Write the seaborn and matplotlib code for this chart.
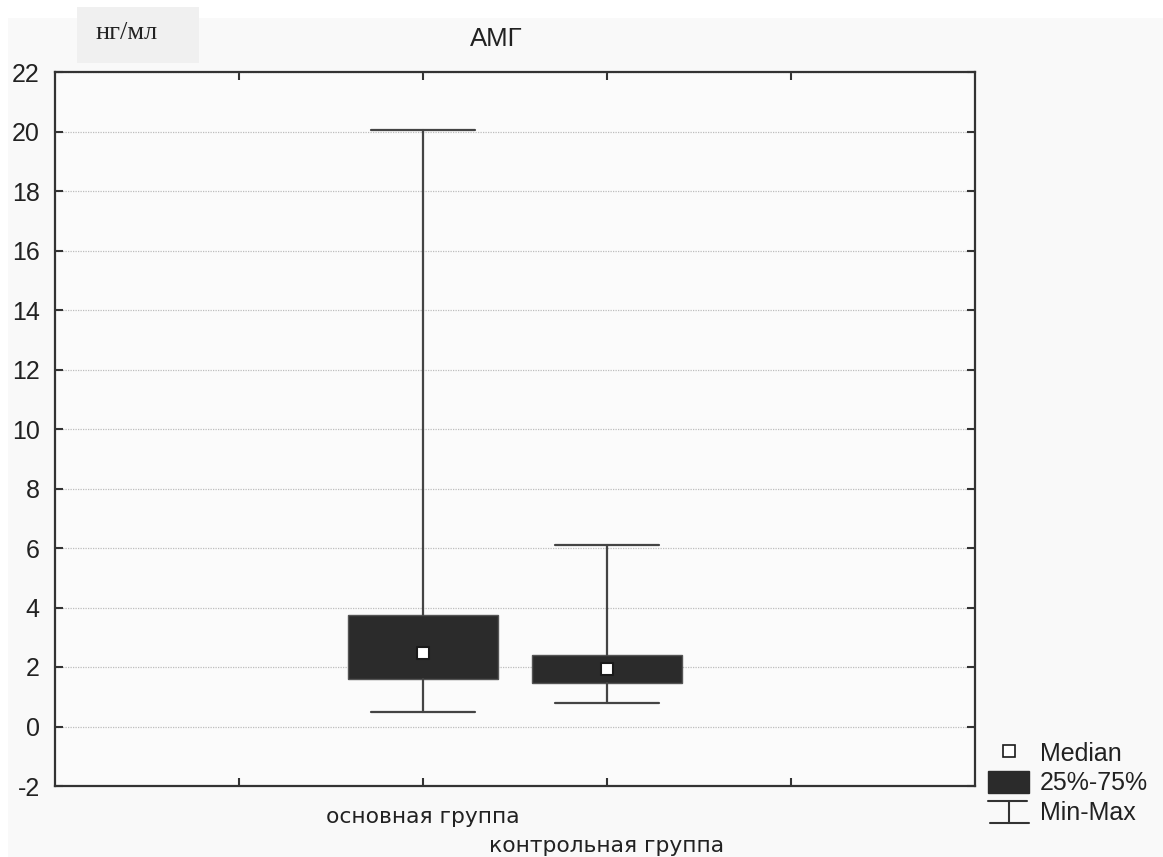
import matplotlib
matplotlib.use('Agg')
import matplotlib.pyplot as plt
import seaborn as sns
import pandas as pd
from matplotlib.patches import Rectangle, Patch
from matplotlib.lines import Line2D
from matplotlib.legend_handler import HandlerBase
from matplotlib.transforms import ScaledTranslation

# ---- data ----
categories = ['основная группа', 'контрольная группа']
medians = [2.47, 1.94]
q1 = [1.60, 1.47]
q3 = [3.75, 2.41]
mins = [0.49, 0.80]
maxs = [20.05, 6.10]
title = 'АМГ'
unit = 'нг/мл'
legend_labels = ['Median', '25%-75%', 'Min-Max']
yticks = list(range(-2, 23, 2))

sns.set_style('white')
plt.rcParams['font.family'] = ['Liberation Sans', 'DejaVu Sans']

W, H = 1163, 857
fig = plt.figure(figsize=(W / 100, H / 100), dpi=100, facecolor='white')
fig.patches.append(Rectangle((8 / W, 0), 1 - 8 / W, 1 - 18 / H, transform=fig.transFigure,
                             facecolor='#f9f9f9', edgecolor='none', zorder=-10))
fig.patches.append(Rectangle((77 / W, 1 - 63 / H), 122 / W, 56 / H, transform=fig.transFigure,
                             facecolor='#f0f0f0', edgecolor='none', zorder=-9))

ax = fig.add_axes([55 / W, 1 - 786 / H, 920 / W, 714 / H])
ax.set_facecolor('#fbfbfb')

positions = [2, 3]
stats = [dict(med=m, q1=a, q3=b, whislo=lo, whishi=hi, fliers=[])
         for m, a, b, lo, hi in zip(medians, q1, q3, mins, maxs)]
ax.bxp(stats, positions=positions, widths=0.81, capwidths=0.567, patch_artist=True,
       showfliers=False, manage_ticks=False,
       boxprops=dict(facecolor='#2b2b2b', edgecolor='#555555', linewidth=1, zorder=3),
       whiskerprops=dict(color='#444444', linewidth=1.6, zorder=3),
       capprops=dict(color='#444444', linewidth=1.6, zorder=3),
       medianprops=dict(linewidth=0))

df = pd.DataFrame({'x': positions, 'median': medians, 'group': categories})
sns.scatterplot(data=df, x='x', y='median', marker='s', s=70, color='white',
                edgecolor='#1a1a1a', linewidth=1.5, ax=ax, zorder=5, legend=False)

ax.set_xlim(0, 5)
ax.set_ylim(-2, 22)
ax.set_yticks(yticks)
ax.set_yticklabels([str(t) for t in yticks])
xtick_pos = [1, 2, 3, 4]
ax.set_xticks(xtick_pos)
ax.set_xticklabels(['', categories[0], categories[1], ''], fontfamily='DejaVu Sans',
                   fontsize=15.7, color='#222222')
ax.set_xlabel('')
ax.set_ylabel('')

ax.yaxis.grid(True, color='#bdbdbd', linestyle=(0, (1, 1)), linewidth=0.9)
ax.xaxis.grid(False)
ax.set_axisbelow(True)

for s in ax.spines.values():
    s.set_color('#333333')
    s.set_linewidth(1.6)
    s.set_visible(True)

ax.tick_params(axis='y', which='major', direction='in', left=True, right=True, length=6,
               width=1.5, color='#333333', labelsize=18, pad=11, labelcolor='#222222')
ax.tick_params(axis='x', which='major', direction='in', bottom=True, top=True, length=6,
               width=1.5, color='#333333', pad=15)

# stagger second category label
major_ticks = ax.xaxis.get_major_ticks()
lbl = major_ticks[2].label1
lbl.set_transform(lbl.get_transform() + ScaledTranslation(0, -0.29, fig.dpi_scale_trans))

fig.text(496 / W, 1 - 39 / H, title, ha='center', va='center', fontsize=18.5, color='#222222')
fig.text(127 / W, 1 - 33 / H, unit, ha='center', va='center', fontsize=19,
         fontfamily='Liberation Serif', color='#222222')


class MinMaxKey:
    pass


class HandlerMinMax(HandlerBase):
    def create_artists(self, legend, orig_handle, xdescent, ydescent, width, height, fontsize, trans):
        x0, y0 = -xdescent, -ydescent
        cx = x0 + width / 2
        arts = [Line2D([x0, x0 + width * 0.95], [y0 + height, y0 + height]),
                Line2D([cx, cx], [y0, y0 + height]),
                Line2D([x0 + width * 0.05, x0 + width], [y0, y0])]
        for a in arts:
            a.set_color('#333333')
            a.set_linewidth(1.5)
            a.set_transform(trans)
        return arts


h_med = Line2D([], [], marker='s', markersize=8, markerfacecolor='white',
               markeredgecolor='#1a1a1a', markeredgewidth=1.2, linestyle='none')
h_box = Patch(facecolor='#2b2b2b', edgecolor='#2b2b2b')
h_mm = MinMaxKey()
fig.legend([h_med, h_box, h_mm], legend_labels, handler_map={MinMaxKey: HandlerMinMax()},
           loc='upper left', bbox_to_anchor=(988 / W, 1 - 741 / H), frameon=False,
           fontsize=18, handlelength=1.64, handleheight=1.0, handletextpad=0.44,
           labelspacing=0.2, borderpad=0, borderaxespad=0, labelcolor='#222222')

fig.savefig('out.png', dpi=100, facecolor=fig.get_facecolor())
